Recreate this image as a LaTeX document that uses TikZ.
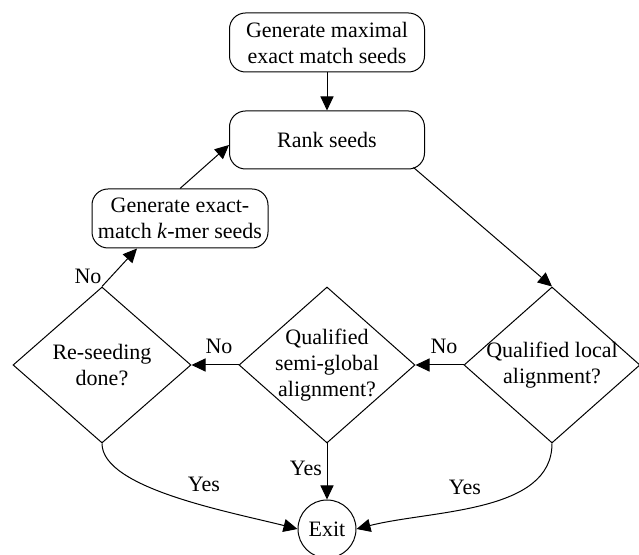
\documentclass[tikz,border=0pt]{standalone}
\usepackage{fontspec}
\setmainfont{Liberation Serif}
\usetikzlibrary{shapes.geometric,arrows.meta}
\begin{document}
\begin{tikzpicture}[x=0.5pt,y=-0.5pt,
  every node/.style={font=\fontsize{11}{13}\selectfont, inner sep=0pt, align=center},
  procbox/.style={draw, rounded corners=8pt, line width=0.5pt},
  decbox/.style={draw, diamond, line width=0.5pt},
  endbox/.style={draw, circle, minimum size=29pt, line width=0.5pt},
  arr/.style={line width=0.5pt, -{Triangle[length=7pt,width=6.5pt]}},
  lbl/.style={}]
\useasboundingbox (0,0) rectangle (639,555);
% process boxes
\node[procbox, minimum width=97.5pt, minimum height=29.5pt] (gen1) at (327,42.5) {Generate maximal\\exact match seeds};
\node[procbox, minimum width=97.5pt, minimum height=29pt] (rank) at (327,140) {Rank seeds};
\node[procbox, minimum width=88pt, minimum height=29.5pt] (gen2) at (180,218.5) {Generate exact-\\match \textit{k}-mer seeds};
% decisions
\node[decbox, minimum width=89pt, minimum height=78pt] (reseed) at (102,365) {};
\node[decbox, minimum width=88pt, minimum height=78pt] (semi) at (327,365) {};
\node[decbox, minimum width=88pt, minimum height=78pt] (local) at (552,365) {};
\node (reseedT) at (102,365) {Re-seeding\\done?};
\node (semiT) at (327,365) {Qualified\\semi-global\\alignment?};
\node (localT) at (552,365) {Qualified local\\alignment?};
% exit
\node[endbox] (exit) at (327,529) {Exit};
% connectors
\draw[arr] (gen1.south) -- (rank.north);
\draw[arr] (gen2.north) -- ([yshift=-2.5pt]rank.west);
\draw[arr] (reseed.north) -- ([xshift=-21.5pt]gen2.south);
\draw[arr] ([xshift=-5.75pt,yshift=1pt]rank.south east) -- (local.north);
\draw[arr] (local.west) -- (semi.east);
\draw[arr] (semi.west) -- (reseed.east);
\draw[arr] (semi.south) -- (exit.north);
\draw[arr] (reseed.south) .. controls +(0,45) and +(-67,-17) .. (exit.west);
\draw[arr] (local.south) .. controls +(0,70) and +(74,-19) .. (exit.east);
% labels
\node[lbl] (no1) at (88,276) {No};
\node[lbl] (no2) at (219,346) {No};
\node[lbl] (no3) at (444,346) {No};
\node[lbl] (yes1) at (204,484) {Yes};
\node[lbl] (yes2) at (306,468) {Yes};
\node[lbl] (yes3) at (465,487) {Yes};
\end{tikzpicture}
\end{document}
